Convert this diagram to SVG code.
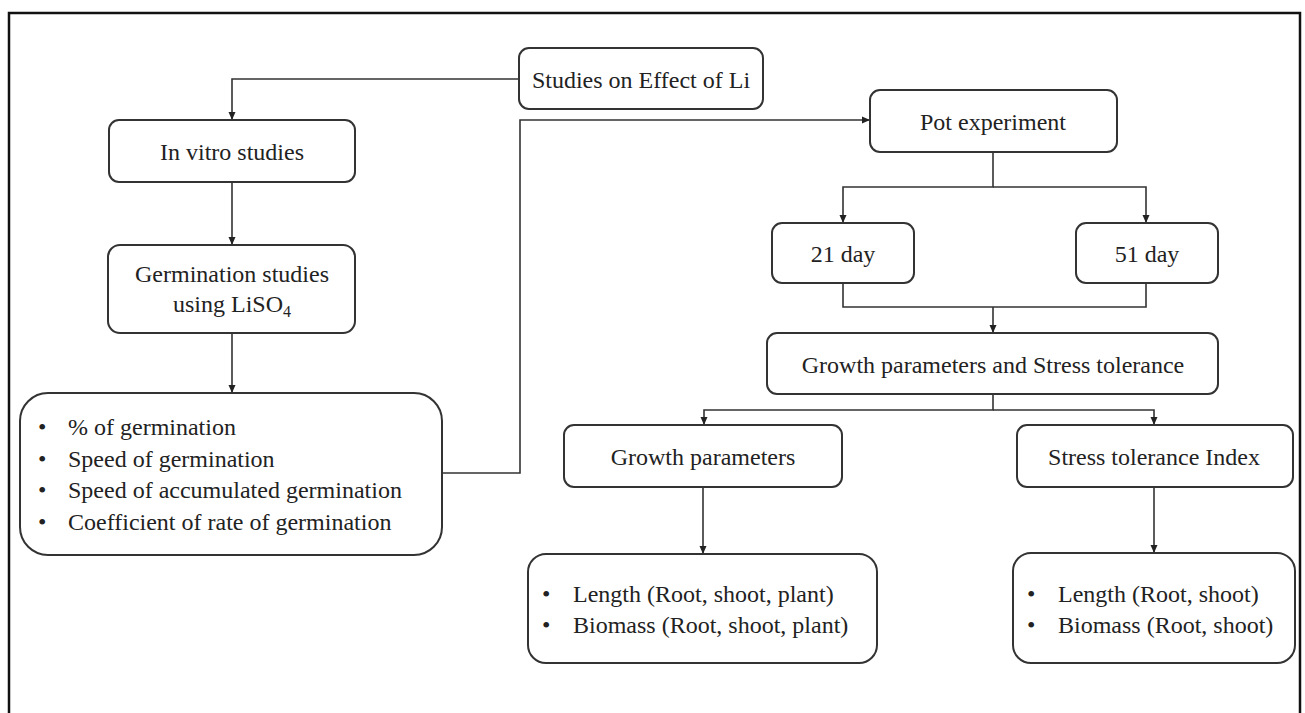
<svg xmlns="http://www.w3.org/2000/svg" width="1305" height="713" viewBox="0 0 1305 713">
<style>
.box{fill:#fff;stroke:#333;stroke-width:2}
.t{font-family:"Liberation Serif","Times New Roman",serif;font-size:24px;fill:#222}
.c{text-anchor:middle}
.con{fill:none;stroke:#333;stroke-width:1.6}
</style>
<defs>
<marker id="ah" viewBox="0 0 8 8" refX="8" refY="4" markerWidth="8" markerHeight="8" markerUnits="userSpaceOnUse" orient="auto">
<path d="M0,0.5 L8,4 L0,7.5 z" fill="#222"/>
</marker>
</defs>
<rect width="1305" height="713" fill="#fff"/>
<rect x="9" y="13" width="1291" height="730" fill="none" stroke="#111" stroke-width="2.5"/>

<g id="connectors">
<path class="con" d="M519,79 H232 V120" marker-end="url(#ah)"/>
<path class="con" d="M232,182 V245" marker-end="url(#ah)"/>
<path class="con" d="M232,333 V393" marker-end="url(#ah)"/>
<path class="con" d="M442,473 H520 V120 H870" marker-end="url(#ah)"/>
<path class="con" d="M993,152 V187 H843 V223" marker-end="url(#ah)"/>
<path class="con" d="M993,187 H1146 V223" marker-end="url(#ah)"/>
<path class="con" d="M843,283 V307 H1146 V283"/>
<path class="con" d="M993,307 V333" marker-end="url(#ah)"/>
<path class="con" d="M993,394 V410 H704 V425" marker-end="url(#ah)"/>
<path class="con" d="M993,410 H1154 V425" marker-end="url(#ah)"/>
<path class="con" d="M703,487 V554" marker-end="url(#ah)"/>
<path class="con" d="M1154,487 V553" marker-end="url(#ah)"/>
</g>

<g id="studies">
<rect class="box" x="519" y="48" width="244" height="61" rx="10"/>
<text class="t c" x="641" y="88">Studies on Effect of Li</text>
</g>
<g id="invitro">
<rect class="box" x="109" y="120" width="246" height="62" rx="10"/>
<text class="t c" x="232" y="160">In vitro studies</text>
</g>
<g id="germination">
<rect class="box" x="108" y="245" width="247" height="88" rx="12"/>
<text class="t c" x="232" y="282">Germination studies</text>
<text class="t c" x="232" y="312">using LiSO<tspan font-size="16" dy="5">4</tspan></text>
</g>
<g id="germ-params">
<rect class="box" x="20" y="393" width="422" height="162" rx="28"/>
<text class="t" x="38" y="435">•</text><text class="t" x="68" y="435">% of germination</text>
<text class="t" x="38" y="467">•</text><text class="t" x="68" y="467">Speed of germination</text>
<text class="t" x="38" y="498">•</text><text class="t" x="68" y="498">Speed of accumulated germination</text>
<text class="t" x="38" y="530">•</text><text class="t" x="68" y="530">Coefficient of rate of germination</text>
</g>
<g id="pot">
<rect class="box" x="870" y="90" width="247" height="62" rx="10"/>
<text class="t c" x="993" y="130">Pot experiment</text>
</g>
<g id="day21">
<rect class="box" x="772" y="223" width="142" height="60" rx="10"/>
<text class="t c" x="843" y="262">21 day</text>
</g>
<g id="day51">
<rect class="box" x="1076" y="223" width="142" height="60" rx="10"/>
<text class="t c" x="1147" y="262">51 day</text>
</g>
<g id="gpst">
<rect class="box" x="767" y="333" width="451" height="61" rx="10"/>
<text class="t c" x="993" y="373">Growth parameters and Stress tolerance</text>
</g>
<g id="growth">
<rect class="box" x="564" y="425" width="278" height="62" rx="10"/>
<text class="t c" x="703" y="465">Growth parameters</text>
</g>
<g id="sti">
<rect class="box" x="1017" y="425" width="276" height="62" rx="10"/>
<text class="t c" x="1154" y="465">Stress tolerance Index</text>
</g>
<g id="growth-list">
<rect class="box" x="528" y="554" width="349" height="109" rx="18"/>
<text class="t" x="542" y="602">•</text><text class="t" x="573" y="602">Length (Root, shoot, plant)</text>
<text class="t" x="542" y="633">•</text><text class="t" x="573" y="633">Biomass (Root, shoot, plant)</text>
</g>
<g id="sti-list">
<rect class="box" x="1013" y="553" width="282" height="110" rx="18"/>
<text class="t" x="1027" y="602">•</text><text class="t" x="1058" y="602">Length (Root, shoot)</text>
<text class="t" x="1027" y="633">•</text><text class="t" x="1058" y="633">Biomass (Root, shoot)</text>
</g>
</svg>
